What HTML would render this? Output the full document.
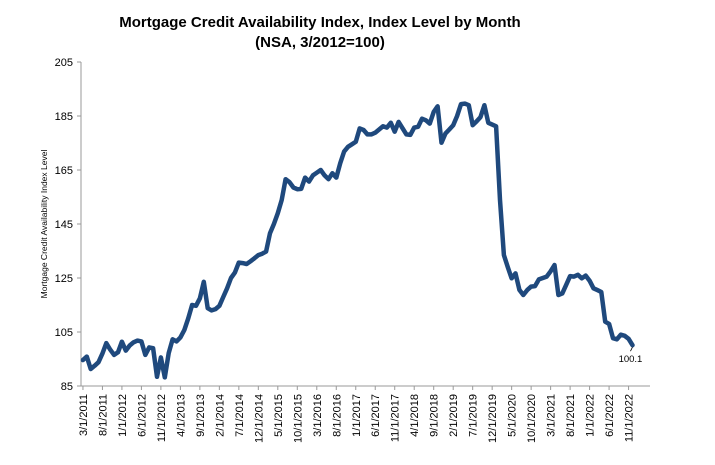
<!DOCTYPE html>
<html><head><meta charset="utf-8"><style>
body{margin:0;background:#fff;}
svg{display:block;font-family:"Liberation Sans",Arial,sans-serif;}
</style></head><body>
<svg id="chart" width="715" height="465" viewBox="0 0 715 465">
<text x="320" y="27" text-anchor="middle" font-size="15" font-weight="bold">Mortgage Credit Availability Index, Index Level by Month</text>
<text x="320" y="47" text-anchor="middle" font-size="15" font-weight="bold">(NSA, 3/2012=100)</text>
<text transform="translate(47,224) rotate(-90)" text-anchor="middle" font-size="8.5">Mortgage Credit Availability Index Level</text>
<g id="axes"></g>
<g id="series"></g>
</svg>
<script>
const values=[94.6,95.9,91.3,92.5,93.8,97,100.9,98.5,96.5,97.5,101.4,98.1,100,101.2,101.8,101.5,96.5,99.3,99,88.4,95.6,88.2,97.2,102.3,101.5,103,105.7,110,115,114.7,117.5,123.6,113.8,113,113.5,114.7,118,121.2,125,127,130.7,130.5,130.2,131.2,132.3,133.5,134,134.8,141.6,145,149,153.9,161.6,160.5,158.5,157.9,158,162.2,160.7,163,164,165,163,161.6,163.8,162.2,167.5,171.8,173.6,174.5,175.5,180.4,179.8,178.2,178.2,178.8,180,181.2,180.7,182.5,179.2,182.8,180.5,178.2,178,180.7,181,184,183.4,182.2,186.5,188.6,175.1,178.5,180,181.6,185,189.4,189.6,189,181.6,183,184.6,189,182.5,181.8,181.2,153.9,133.5,129,124.9,126.7,120.6,118.7,120.5,121.8,122,124.5,125,125.5,127.5,129.8,118.7,119.3,122.5,125.7,125.5,126.2,124.9,125.9,124,121.2,120.5,119.8,108.8,108,102.7,102.3,104,103.6,102.5,100.1];
const yTicks=[85,105,125,145,165,185,205];
const xLabels=["3/1/2011","8/1/2011","1/1/2012","6/1/2012","11/1/2012","4/1/2013","9/1/2013","2/1/2014","7/1/2014","12/1/2014","5/1/2015","10/1/2015","3/1/2016","8/1/2016","1/1/2017","6/1/2017","11/1/2017","4/1/2018","9/1/2018","2/1/2019","7/1/2019","12/1/2019","5/1/2020","10/1/2020","3/1/2021","8/1/2021","1/1/2022","6/1/2022","11/1/2022"];
const lastLabel="100.1";

const NS="http://www.w3.org/2000/svg";
const X0=81,X1=650,Y0=386,Y1=62,SLOTS=146,YMIN=85,YMAX=205;
const xs=i=>X0+(i+0.5)*(X1-X0)/SLOTS;
const ys=v=>Y0-(v-YMIN)/(YMAX-YMIN)*(Y0-Y1);
function mk(tag,attrs,parent){const e=document.createElementNS(NS,tag);for(const k in attrs)e.setAttribute(k,attrs[k]);parent.appendChild(e);return e;}
const ax=document.getElementById('axes'),sg=document.getElementById('series');

let a=mk('line',{x1:X0,y1:Y1,x2:X0,y2:Y0,stroke:'#999','stroke-width':1},ax);


a=mk('line',{x1:X0,y1:Y0,x2:X1,y2:Y0,stroke:'#999','stroke-width':1},ax);



yTicks.forEach(v=>{
  const y=ys(v);
  const t=mk('line',{x1:X0-4,y1:y,x2:X0,y2:y,stroke:'#999'},ax);
  
  
  const l=mk('text',{x:X0-8,y:y+4,'text-anchor':'end','font-size':11},ax);
  l.textContent=v;
  
  
});
xLabels.forEach((s,k)=>{
  const x=xs(k*5);
  const t=mk('line',{x1:x,y1:Y0,x2:x,y2:Y0+4,stroke:'#999'},ax);
  
  
  const l=mk('text',{transform:`translate(${x+4},${Y0+8}) rotate(-90)`,'text-anchor':'end','font-size':11},ax);
  l.textContent=s;
  
  
});
const d=values.map((v,i)=>(i?'L':'M')+xs(i).toFixed(1)+','+ys(v).toFixed(1)).join('');
const p=mk('path',{d:d,fill:'none',stroke:'#1f497d','stroke-width':4.5,'stroke-linejoin':'round','stroke-linecap':'round'},sg);


const li=values.length-1,lx=xs(li),ly=ys(values[li]);
const ll=mk('line',{x1:lx,y1:ly+2,x2:lx-2,y2:ly+6,stroke:'#000','stroke-width':0.8},sg);


const lt=mk('text',{x:lx-2,y:ly+17,'text-anchor':'middle','font-size':9.5},sg);
lt.textContent=lastLabel;


</script>
</body></html>
